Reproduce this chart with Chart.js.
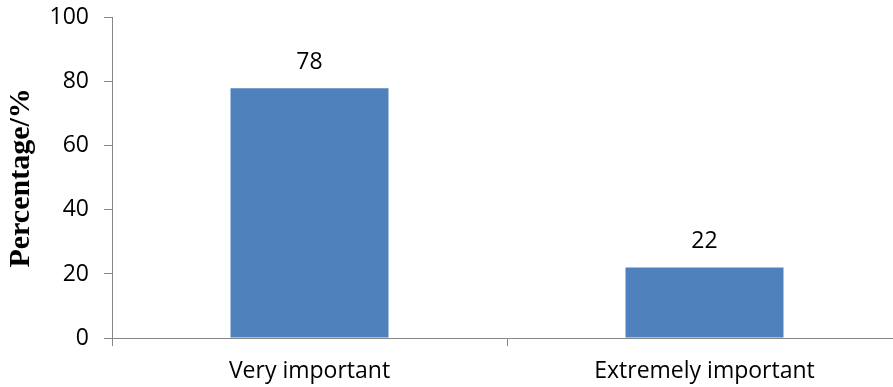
<!DOCTYPE html>
<html>
<head>
<meta charset="utf-8">
<script src="https://cdn.jsdelivr.net/npm/chart.js@4.4.1/dist/chart.umd.min.js"></script>
<style>
  html, body { margin: 0; padding: 0; overflow: hidden; background: #fff; }
  #wrap { position: relative; top: -11px; width: 902px; height: 398px; }
</style>
</head>
<body>
<div id="wrap"><canvas id="c"></canvas></div>
<script>
// data
const categories = ["Very important", "Extremely important"];
const percentages = [78, 22];
const yTicks = [0, 20, 40, 60, 80, 100];

const BAR = "#4F81BD";
const AXIS = "#868686";
const TICK_FONT = { family: "Open Sans", size: 23 };

// value labels above each bar
const valueLabels = {
  id: "valueLabels",
  afterDatasetsDraw(chart) {
    const ctx = chart.ctx;
    const meta = chart.getDatasetMeta(0);
    ctx.save();
    ctx.font = "23px 'Open Sans'";
    ctx.fillStyle = "#000";
    ctx.textAlign = "center";
    ctx.textBaseline = "middle";
    meta.data.forEach((bar, i) => {
      ctx.fillText(String(percentages[i]), bar.x, bar.y - 26);
    });
    ctx.restore();
  },
};

new Chart(document.getElementById("c"), {
  type: "bar",
  data: {
    labels: categories,
    datasets: [
      {
        data: percentages,
        backgroundColor: BAR,
        borderWidth: 0,
        categoryPercentage: 0.4,
        barPercentage: 1,
      },
    ],
  },
  options: {
    responsive: true,
    maintainAspectRatio: false,
    animation: false,
    layout: { padding: { top: 4, right: 0, bottom: 0, left: 0 } },
    plugins: { legend: { display: false }, tooltip: { enabled: false } },
    scales: {
      x: {
        grid: { drawOnChartArea: false, color: AXIS, tickLength: 8 },
        border: { color: AXIS, width: 1 },
        ticks: { color: "#000", font: TICK_FONT, padding: 12 },
        afterFit: (s) => { s.height = 49; },
      },
      y: {
        min: 0,
        max: 100,
        afterBuildTicks: (s) => { s.ticks = yTicks.map((v) => ({ value: v })); },
        grid: { drawOnChartArea: false, color: AXIS, tickLength: 8 },
        border: { color: AXIS, width: 1 },
        ticks: { color: "#000", font: TICK_FONT, padding: 15 },
        title: {
          display: true,
          text: "Percentage/%",
          color: "#000",
          font: { family: "Liberation Serif", size: 30, weight: "bold" },
          padding: { top: 3, bottom: 0 },
        },
        afterFit: (s) => { s.width = 112; },
      },
    },
  },
  plugins: [valueLabels],
});
</script>
</body>
</html>
